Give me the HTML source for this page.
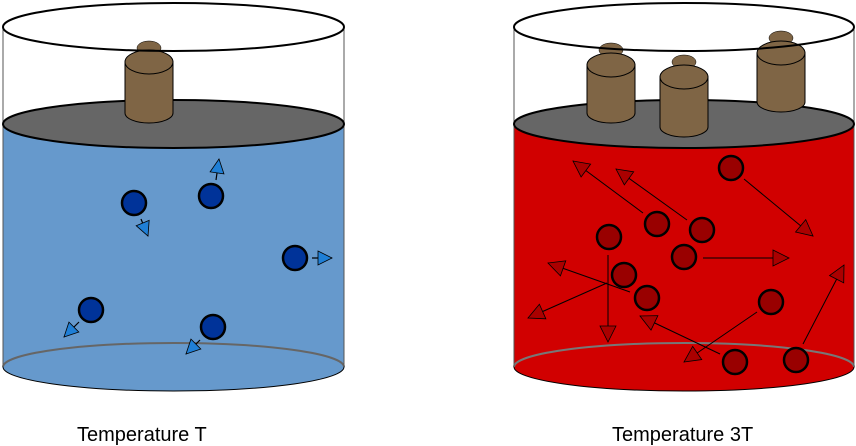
<!DOCTYPE html>
<html><head><meta charset="utf-8"><style>
html,body{margin:0;padding:0;background:#fff}
svg{display:block}
text{font-family:"Liberation Sans",sans-serif;font-size:20px;fill:#000}
</style></head><body>
<svg width="856" height="446" viewBox="0 0 856 446" xmlns="http://www.w3.org/2000/svg">
<defs>
<marker id="ab" markerUnits="userSpaceOnUse" markerWidth="20" markerHeight="20" refX="15" refY="8" orient="auto" overflow="visible">
<path d="M1,1 L15,8 L1,15 Z" fill="#1f7fd6" stroke="#000" stroke-width="0.8"/>
</marker>
<marker id="ar" markerUnits="userSpaceOnUse" markerWidth="22" markerHeight="22" refX="17" refY="9" orient="auto" overflow="visible">
<path d="M1,1 L17,9 L1,17 Z" fill="#aa0000" stroke="#000" stroke-width="0.8"/>
</marker>
</defs>

<!-- LEFT CYLINDER -->
<path d="M3,124 L3,367 A170.5,24 0 0 0 344,367 L344,124 Z" fill="#6699cc"/>
<path d="M3,367 A170.5,24 0 0 0 344,367" fill="none" stroke="#000" stroke-width="1"/>
<path d="M3,367 A170.5,24 0 0 1 344,367" fill="none" stroke="#666" stroke-width="2"/>
<line x1="3" y1="27" x2="3" y2="367" stroke="#555" stroke-width="1"/>
<line x1="344" y1="27" x2="344" y2="367" stroke="#555" stroke-width="1"/>
<ellipse cx="173.5" cy="124" rx="170.5" ry="24" fill="#666" stroke="#000" stroke-width="2"/>
<ellipse cx="149" cy="48" rx="12" ry="7" fill="#7f6545" stroke="#000" stroke-width="0.5"/>
<path d="M125,62 L125,113 A24,10 0 0 0 173,113 L173,62 Z" fill="#7f6545" stroke="#000" stroke-width="1"/>
<ellipse cx="149" cy="62" rx="24" ry="12" fill="#7f6545" stroke="#000" stroke-width="1"/>
<ellipse cx="173.5" cy="27" rx="170.5" ry="24" fill="none" stroke="#000" stroke-width="2"/>

<g stroke="#000" stroke-width="1.2" fill="none">
<line x1="141" y1="219" x2="148" y2="236" marker-end="url(#ab)"/>
<line x1="216" y1="180" x2="219" y2="159" marker-end="url(#ab)"/>
<line x1="312" y1="258" x2="332" y2="258" marker-end="url(#ab)"/>
<line x1="79" y1="322" x2="64" y2="337" marker-end="url(#ab)"/>
<line x1="200" y1="340" x2="186" y2="354" marker-end="url(#ab)"/>
</g>
<g fill="#003399" stroke="#000" stroke-width="2.5">
<circle cx="134" cy="203" r="12"/>
<circle cx="211" cy="196" r="12"/>
<circle cx="295" cy="258" r="12"/>
<circle cx="91" cy="310" r="12"/>
<circle cx="213" cy="327" r="12"/>
</g>

<!-- RIGHT CYLINDER -->
<path d="M514,124 L514,367 A170,24 0 0 0 854,367 L854,124 Z" fill="#d10000"/>
<path d="M514,367 A170,24 0 0 0 854,367" fill="none" stroke="#000" stroke-width="1"/>
<path d="M514,367 A170,24 0 0 1 854,367" fill="none" stroke="#777" stroke-width="2"/>
<line x1="514" y1="27" x2="514" y2="367" stroke="#555" stroke-width="1"/>
<line x1="854" y1="27" x2="854" y2="367" stroke="#555" stroke-width="1"/>
<ellipse cx="684" cy="124" rx="170" ry="24" fill="#666" stroke="#000" stroke-width="2"/>

<ellipse cx="611" cy="50" rx="12" ry="7" fill="#7f6545" stroke="#000" stroke-width="0.5"/>
<path d="M587,65 L587,113 A24,10 0 0 0 635,113 L635,65 Z" fill="#7f6545" stroke="#000" stroke-width="1"/>
<ellipse cx="611" cy="65" rx="24" ry="12" fill="#7f6545" stroke="#000" stroke-width="1"/>

<ellipse cx="684" cy="62" rx="12" ry="7" fill="#7f6545" stroke="#000" stroke-width="0.5"/>
<path d="M660,77 L660,127 A24,10 0 0 0 708,127 L708,77 Z" fill="#7f6545" stroke="#000" stroke-width="1"/>
<ellipse cx="684" cy="77" rx="24" ry="12" fill="#7f6545" stroke="#000" stroke-width="1"/>

<ellipse cx="781" cy="38" rx="12" ry="7" fill="#7f6545" stroke="#000" stroke-width="0.5"/>
<path d="M757,53 L757,102 A24,10 0 0 0 805,102 L805,53 Z" fill="#7f6545" stroke="#000" stroke-width="1"/>
<ellipse cx="781" cy="53" rx="24" ry="12" fill="#7f6545" stroke="#000" stroke-width="1"/>

<ellipse cx="684" cy="27" rx="170" ry="24" fill="none" stroke="#000" stroke-width="2"/>

<g stroke="#000" stroke-width="1" fill="none">
<line x1="744" y1="179" x2="813" y2="236" marker-end="url(#ar)"/>
<line x1="643" y1="213" x2="573" y2="161" marker-end="url(#ar)"/>
<line x1="687" y1="220" x2="616" y2="169" marker-end="url(#ar)"/>
<line x1="703" y1="258" x2="789" y2="258" marker-end="url(#ar)"/>
<line x1="608" y1="255" x2="608" y2="342" marker-end="url(#ar)"/>
<line x1="630" y1="292" x2="548" y2="263" marker-end="url(#ar)"/>
<line x1="607" y1="283" x2="528" y2="318" marker-end="url(#ar)"/>
<line x1="757" y1="312" x2="684" y2="362" marker-end="url(#ar)"/>
<line x1="720" y1="354" x2="640" y2="316" marker-end="url(#ar)"/>
<line x1="803" y1="344" x2="844" y2="265" marker-end="url(#ar)"/>
</g>
<g fill="#990000" stroke="#000" stroke-width="2.5">
<circle cx="731" cy="168" r="12"/>
<circle cx="657" cy="224" r="12"/>
<circle cx="702" cy="230" r="12"/>
<circle cx="609" cy="237" r="12"/>
<circle cx="684" cy="257" r="12"/>
<circle cx="624" cy="275" r="12"/>
<circle cx="647" cy="298" r="12"/>
<circle cx="771" cy="302" r="12"/>
<circle cx="735" cy="362" r="12"/>
<circle cx="796" cy="360" r="12"/>
</g>

<text x="77" y="441">Temperature T</text>
<text x="612" y="441">Temperature 3T</text>
</svg>
</body></html>
